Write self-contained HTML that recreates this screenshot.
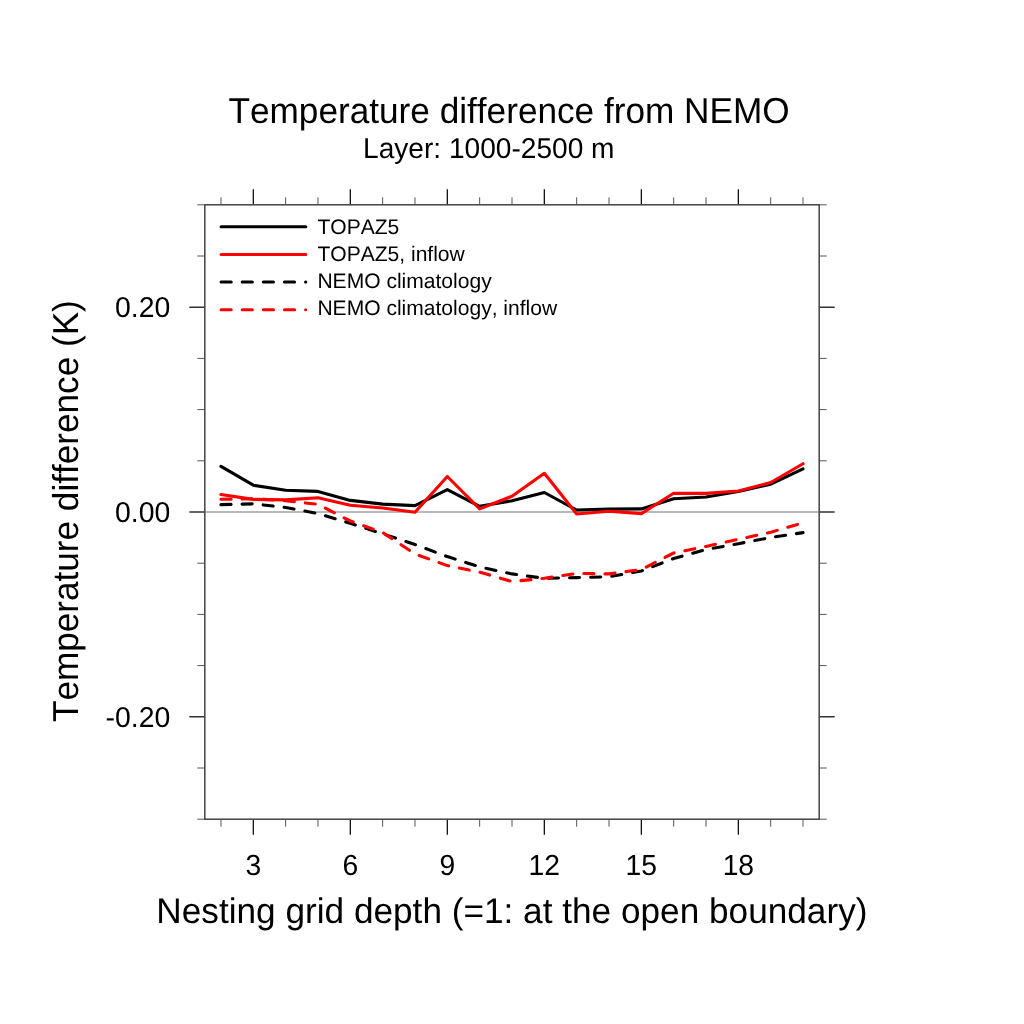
<!DOCTYPE html>
<html><head><meta charset="utf-8"><style>
html,body{margin:0;padding:0;background:#fff;width:1024px;height:1024px;overflow:hidden}
svg{display:block;will-change:transform}
text{font-family:"Liberation Sans", sans-serif;fill:#000;font-kerning:none;font-feature-settings:"kern" 0;text-rendering:geometricPrecision}
</style></head><body>
<svg width="1024" height="1024" viewBox="0 0 1024 1024">
<rect width="1024" height="1024" fill="#fff"/>
<line x1="204.8" y1="512" x2="819.2" y2="512" stroke="#b9b9b9" stroke-width="2"/>
<line x1="220.97" y1="819.2" x2="220.97" y2="826.7" stroke="#555" stroke-width="1.0"/>
<line x1="220.97" y1="204.8" x2="220.97" y2="197.3" stroke="#555" stroke-width="1.0"/>
<line x1="253.31" y1="819.2" x2="253.31" y2="834.7" stroke="#111" stroke-width="1.3"/>
<line x1="253.31" y1="204.8" x2="253.31" y2="189.3" stroke="#111" stroke-width="1.3"/>
<line x1="285.64" y1="819.2" x2="285.64" y2="826.7" stroke="#555" stroke-width="1.0"/>
<line x1="285.64" y1="204.8" x2="285.64" y2="197.3" stroke="#555" stroke-width="1.0"/>
<line x1="317.98" y1="819.2" x2="317.98" y2="826.7" stroke="#555" stroke-width="1.0"/>
<line x1="317.98" y1="204.8" x2="317.98" y2="197.3" stroke="#555" stroke-width="1.0"/>
<line x1="350.32" y1="819.2" x2="350.32" y2="834.7" stroke="#111" stroke-width="1.3"/>
<line x1="350.32" y1="204.8" x2="350.32" y2="189.3" stroke="#111" stroke-width="1.3"/>
<line x1="382.65" y1="819.2" x2="382.65" y2="826.7" stroke="#555" stroke-width="1.0"/>
<line x1="382.65" y1="204.8" x2="382.65" y2="197.3" stroke="#555" stroke-width="1.0"/>
<line x1="414.99" y1="819.2" x2="414.99" y2="826.7" stroke="#555" stroke-width="1.0"/>
<line x1="414.99" y1="204.8" x2="414.99" y2="197.3" stroke="#555" stroke-width="1.0"/>
<line x1="447.33" y1="819.2" x2="447.33" y2="834.7" stroke="#111" stroke-width="1.3"/>
<line x1="447.33" y1="204.8" x2="447.33" y2="189.3" stroke="#111" stroke-width="1.3"/>
<line x1="479.66" y1="819.2" x2="479.66" y2="826.7" stroke="#555" stroke-width="1.0"/>
<line x1="479.66" y1="204.8" x2="479.66" y2="197.3" stroke="#555" stroke-width="1.0"/>
<line x1="512.00" y1="819.2" x2="512.00" y2="826.7" stroke="#555" stroke-width="1.0"/>
<line x1="512.00" y1="204.8" x2="512.00" y2="197.3" stroke="#555" stroke-width="1.0"/>
<line x1="544.34" y1="819.2" x2="544.34" y2="834.7" stroke="#111" stroke-width="1.3"/>
<line x1="544.34" y1="204.8" x2="544.34" y2="189.3" stroke="#111" stroke-width="1.3"/>
<line x1="576.67" y1="819.2" x2="576.67" y2="826.7" stroke="#555" stroke-width="1.0"/>
<line x1="576.67" y1="204.8" x2="576.67" y2="197.3" stroke="#555" stroke-width="1.0"/>
<line x1="609.01" y1="819.2" x2="609.01" y2="826.7" stroke="#555" stroke-width="1.0"/>
<line x1="609.01" y1="204.8" x2="609.01" y2="197.3" stroke="#555" stroke-width="1.0"/>
<line x1="641.35" y1="819.2" x2="641.35" y2="834.7" stroke="#111" stroke-width="1.3"/>
<line x1="641.35" y1="204.8" x2="641.35" y2="189.3" stroke="#111" stroke-width="1.3"/>
<line x1="673.68" y1="819.2" x2="673.68" y2="826.7" stroke="#555" stroke-width="1.0"/>
<line x1="673.68" y1="204.8" x2="673.68" y2="197.3" stroke="#555" stroke-width="1.0"/>
<line x1="706.02" y1="819.2" x2="706.02" y2="826.7" stroke="#555" stroke-width="1.0"/>
<line x1="706.02" y1="204.8" x2="706.02" y2="197.3" stroke="#555" stroke-width="1.0"/>
<line x1="738.36" y1="819.2" x2="738.36" y2="834.7" stroke="#111" stroke-width="1.3"/>
<line x1="738.36" y1="204.8" x2="738.36" y2="189.3" stroke="#111" stroke-width="1.3"/>
<line x1="770.69" y1="819.2" x2="770.69" y2="826.7" stroke="#555" stroke-width="1.0"/>
<line x1="770.69" y1="204.8" x2="770.69" y2="197.3" stroke="#555" stroke-width="1.0"/>
<line x1="803.03" y1="819.2" x2="803.03" y2="826.7" stroke="#555" stroke-width="1.0"/>
<line x1="803.03" y1="204.8" x2="803.03" y2="197.3" stroke="#555" stroke-width="1.0"/>
<line x1="204.8" y1="819.20" x2="197.3" y2="819.20" stroke="#555" stroke-width="1.0"/>
<line x1="819.2" y1="819.20" x2="826.7" y2="819.20" stroke="#555" stroke-width="1.0"/>
<line x1="204.8" y1="768.00" x2="197.3" y2="768.00" stroke="#555" stroke-width="1.0"/>
<line x1="819.2" y1="768.00" x2="826.7" y2="768.00" stroke="#555" stroke-width="1.0"/>
<line x1="204.8" y1="716.80" x2="189.3" y2="716.80" stroke="#111" stroke-width="1.3"/>
<line x1="819.2" y1="716.80" x2="834.7" y2="716.80" stroke="#111" stroke-width="1.3"/>
<line x1="204.8" y1="665.60" x2="197.3" y2="665.60" stroke="#555" stroke-width="1.0"/>
<line x1="819.2" y1="665.60" x2="826.7" y2="665.60" stroke="#555" stroke-width="1.0"/>
<line x1="204.8" y1="614.40" x2="197.3" y2="614.40" stroke="#555" stroke-width="1.0"/>
<line x1="819.2" y1="614.40" x2="826.7" y2="614.40" stroke="#555" stroke-width="1.0"/>
<line x1="204.8" y1="563.20" x2="197.3" y2="563.20" stroke="#555" stroke-width="1.0"/>
<line x1="819.2" y1="563.20" x2="826.7" y2="563.20" stroke="#555" stroke-width="1.0"/>
<line x1="204.8" y1="512.00" x2="189.3" y2="512.00" stroke="#111" stroke-width="1.3"/>
<line x1="819.2" y1="512.00" x2="834.7" y2="512.00" stroke="#111" stroke-width="1.3"/>
<line x1="204.8" y1="460.80" x2="197.3" y2="460.80" stroke="#555" stroke-width="1.0"/>
<line x1="819.2" y1="460.80" x2="826.7" y2="460.80" stroke="#555" stroke-width="1.0"/>
<line x1="204.8" y1="409.60" x2="197.3" y2="409.60" stroke="#555" stroke-width="1.0"/>
<line x1="819.2" y1="409.60" x2="826.7" y2="409.60" stroke="#555" stroke-width="1.0"/>
<line x1="204.8" y1="358.40" x2="197.3" y2="358.40" stroke="#555" stroke-width="1.0"/>
<line x1="819.2" y1="358.40" x2="826.7" y2="358.40" stroke="#555" stroke-width="1.0"/>
<line x1="204.8" y1="307.20" x2="189.3" y2="307.20" stroke="#111" stroke-width="1.3"/>
<line x1="819.2" y1="307.20" x2="834.7" y2="307.20" stroke="#111" stroke-width="1.3"/>
<line x1="204.8" y1="256.00" x2="197.3" y2="256.00" stroke="#555" stroke-width="1.0"/>
<line x1="819.2" y1="256.00" x2="826.7" y2="256.00" stroke="#555" stroke-width="1.0"/>
<line x1="204.8" y1="204.80" x2="197.3" y2="204.80" stroke="#555" stroke-width="1.0"/>
<line x1="819.2" y1="204.80" x2="826.7" y2="204.80" stroke="#555" stroke-width="1.0"/>
<rect x="204.8" y="204.8" width="614.40" height="614.40" fill="none" stroke="#444" stroke-width="1.5"/>
<polyline points="220.97,504.60 253.31,503.80 285.64,507.50 317.98,513.50 350.32,523.30 382.65,533.80 414.99,544.50 447.33,556.60 479.66,566.90 512.00,573.90 544.34,578.30 576.67,577.60 609.01,576.70 641.35,571.00 673.68,558.50 706.02,549.50 738.36,543.70 770.69,537.50 803.03,532.60" fill="none" stroke="#000" stroke-width="3.1" stroke-dasharray="10.1 11.02" stroke-linecap="round" stroke-linejoin="round"/>
<polyline points="220.97,499.30 253.31,498.70 285.64,500.80 317.98,504.30 350.32,521.00 382.65,532.50 414.99,554.00 447.33,565.60 479.66,572.20 512.00,581.50 544.34,578.30 576.67,573.40 609.01,573.90 641.35,569.60 673.68,553.00 706.02,546.40 738.36,539.30 770.69,532.30 803.03,522.80" fill="none" stroke="#f00" stroke-width="3.1" stroke-dasharray="10.1 11.02" stroke-linecap="round" stroke-linejoin="round"/>
<polyline points="220.97,466.40 253.31,485.20 285.64,490.30 317.98,491.40 350.32,500.40 382.65,504.10 414.99,505.60 447.33,489.60 479.66,506.30 512.00,500.80 544.34,492.50 576.67,510.00 609.01,509.10 641.35,508.90 673.68,498.75 706.02,497.00 738.36,491.50 770.69,484.20 803.03,468.90" fill="none" stroke="#000" stroke-width="3.1" stroke-linecap="round" stroke-linejoin="round"/>
<polyline points="220.97,494.50 253.31,499.40 285.64,499.90 317.98,497.70 350.32,505.30 382.65,508.00 414.99,512.20 447.33,476.50 479.66,508.90 512.00,496.20 544.34,473.30 576.67,514.00 609.01,511.30 641.35,513.60 673.68,493.30 706.02,493.40 738.36,491.00 770.69,482.50 803.03,463.75" fill="none" stroke="#f00" stroke-width="3.1" stroke-linecap="round" stroke-linejoin="round"/>
<line x1="221.1" y1="226.7" x2="305.8" y2="226.7" stroke="#000" stroke-width="3.1" stroke-linecap="round"/>
<text transform="translate(317.40 234.40) scale(1 1.0)" font-size="21.05" text-anchor="start">TOPAZ5</text>
<line x1="221.1" y1="254.45" x2="305.8" y2="254.45" stroke="#f00" stroke-width="3.1" stroke-linecap="round"/>
<text transform="translate(317.40 260.90) scale(1 1.0)" font-size="21.05" text-anchor="start">TOPAZ5, inflow</text>
<line x1="221.1" y1="282.0" x2="305.8" y2="282.0" stroke="#000" stroke-width="3.1" stroke-linecap="round" stroke-dasharray="10.1 11.02"/>
<text transform="translate(317.40 287.80) scale(1 1.0)" font-size="21.05" text-anchor="start">NEMO climatology</text>
<line x1="221.1" y1="309.8" x2="305.8" y2="309.8" stroke="#f00" stroke-width="3.1" stroke-linecap="round" stroke-dasharray="10.1 11.02"/>
<text transform="translate(317.40 315.20) scale(1 1.0)" font-size="21.05" text-anchor="start">NEMO climatology, inflow</text>
<text transform="translate(253.31 875.10) scale(1 1.025)" font-size="28.3" text-anchor="middle">3</text>
<text transform="translate(350.32 875.10) scale(1 1.025)" font-size="28.3" text-anchor="middle">6</text>
<text transform="translate(447.33 875.10) scale(1 1.025)" font-size="28.3" text-anchor="middle">9</text>
<text transform="translate(544.34 875.10) scale(1 1.025)" font-size="28.3" text-anchor="middle">12</text>
<text transform="translate(641.35 875.10) scale(1 1.025)" font-size="28.3" text-anchor="middle">15</text>
<text transform="translate(738.36 875.10) scale(1 1.025)" font-size="28.3" text-anchor="middle">18</text>
<text transform="translate(170.30 316.90) scale(1 1.01)" font-size="28.4" text-anchor="end">0.20</text>
<text transform="translate(170.30 521.70) scale(1 1.01)" font-size="28.4" text-anchor="end">0.00</text>
<text transform="translate(170.30 726.50) scale(1 1.01)" font-size="28.4" text-anchor="end">-0.20</text>
<text transform="translate(509.05 122.60) scale(1 1.025)" font-size="35.2" text-anchor="middle">Temperature difference from NEMO</text>
<text transform="translate(488.75 158.40) scale(1 1.02)" font-size="28.1" text-anchor="middle">Layer: 1000-2500 m</text>
<text transform="translate(511.90 922.90) scale(1 1.015)" font-size="35.2" text-anchor="middle">Nesting grid depth (=1: at the open boundary)</text>
<text transform="translate(77.90 511.15) rotate(-90) scale(1 1.025)" font-size="35.15" text-anchor="middle">Temperature difference (K)</text>
</svg>
</body></html>
